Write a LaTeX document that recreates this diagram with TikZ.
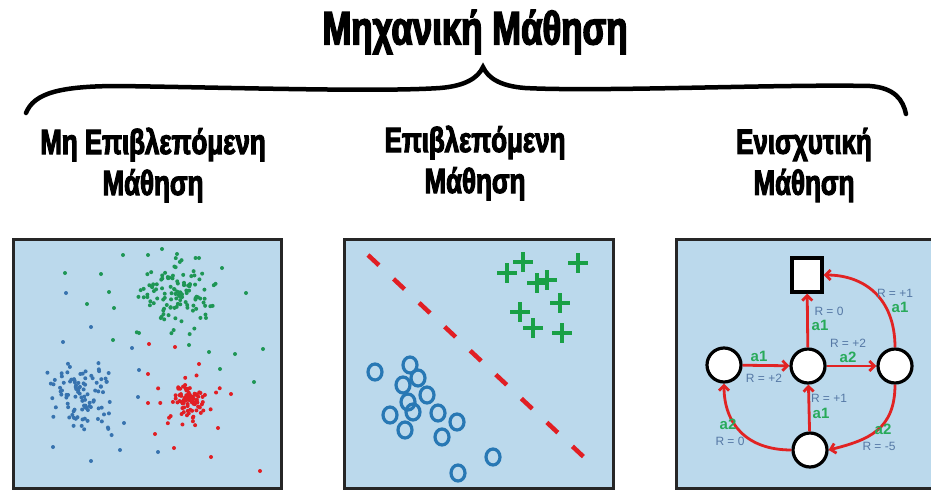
\documentclass[tikz,border=0pt]{standalone}
\usepackage{fontspec}
\setmainfont{Liberation Sans}
\newfontfamily\headfont[FakeStretch=0.74,FakeBold=3]{Liberation Sans}
\usetikzlibrary{arrows.meta}

\definecolor{panelblue}{RGB}{187,217,236}
\definecolor{dotgreen}{RGB}{30,150,85}
\definecolor{dotblue}{RGB}{55,115,175}
\definecolor{dotred}{RGB}{225,30,35}
\definecolor{plusgreen}{RGB}{25,160,70}
\definecolor{ringblue}{RGB}{40,120,180}
\definecolor{rewardblue}{RGB}{85,120,165}
\definecolor{actiongreen}{RGB}{40,170,90}
\definecolor{edgered}{RGB}{225,35,35}

\tikzset{
  panel/.style={draw=black!85, line width=3pt, fill=panelblue},
  heading/.style={font=\headfont\bfseries\fontsize{35}{41}\selectfont, align=center},
  state/.style={circle, draw, line width=3.2pt, fill=white, minimum size=34pt, inner sep=0pt},
  terminal/.style={rectangle, draw, line width=3.2pt, fill=white, minimum width=30pt, minimum height=34pt, inner sep=0pt},
  move/.style={draw=edgered, line width=2.8pt, -{Straight Barb[length=5pt,width=10pt]}},
  reward/.style={text=rewardblue, font=\fontsize{12}{12}\selectfont, inner sep=0pt},
  action/.style={text=actiongreen, font=\bfseries\fontsize{15}{15}\selectfont, inner sep=0pt},
  plus/.style={draw=plusgreen, line width=3.4pt},
  ring/.style={draw=ringblue, line width=3.2pt},
}

\begin{document}
\begin{tikzpicture}[x=1pt, y=-1pt]
    \useasboundingbox (0,0) rectangle (931,490);

    % Title and brace
    \node [font=\headfont\bfseries\fontsize{47}{47}\selectfont] (title) at (475,32) {Μηχανική Μάθηση};
    \draw [line width=4.5pt, line cap=round] (26,113) .. controls (34,93) and (60,86) .. (120,86)
        .. controls (250,88) and (380,92) .. (440,88)
        .. controls (465,86) and (478,78) .. (483,67)
        .. controls (488,78) and (500,86) .. (525,88)
        .. controls (600,92) and (780,84) .. (870,86)
        .. controls (895,88) and (903,100) .. (906,114);

    % Headings
    \node [heading] (unsup) at (153,165) {Μη Επιβλεπόμενη\\Μάθηση};
    \node [heading] (sup) at (475,163) {Επιβλεπόμενη\\Μάθηση};
    \node [heading] (reinf) at (804,165) {Ενισχυτική\\Μάθηση};

    % Panels
    \draw [panel] (13,239) rectangle (281,488);
    \draw [panel] (344,239) rectangle (613,488);
    \begin{scope}
        \clip (0,0) rectangle (931,490);
        \draw [panel] (676,239) rectangle (960,488);
    \end{scope}

    % Clusters
    \pgfmathsetseed{11}
    \foreach \i in {1,...,115} {
        \pgfmathsetmacro{\px}{178+44*(rnd+rnd-1)}
        \pgfmathsetmacro{\py}{297+40*(rnd+rnd-1)}
        \fill [dotgreen] (\px,\py) circle[radius=2];
    }
    \foreach \i in {1,...,100} {
        \pgfmathsetmacro{\px}{83+36*(rnd+rnd-1)}
        \pgfmathsetmacro{\py}{398+42*(rnd+rnd-1)}
        \fill [dotblue] (\px,\py) circle[radius=2];
    }
    \foreach \i in {1,...,45} {
        \pgfmathsetmacro{\px}{190+34*(rnd+rnd-1)}
        \pgfmathsetmacro{\py}{402+32*(rnd+rnd-1)}
        \fill [dotred] (\px,\py) circle[radius=2];
    }
    \foreach \i in {1,...,45} {
        \pgfmathsetmacro{\px}{190+15*(rnd+rnd-1)}
        \pgfmathsetmacro{\py}{400+15*(rnd+rnd-1)}
        \fill [dotred] (\px,\py) circle[radius=2];
    }
    % Stray points
    \foreach \p in {(123,255),(148,255),(162,249),(177,254),(199,258),(222,268),(65,273),
        (101,274),(109,292),(87,304),(114,308),(246,293),(113,340),(139,333),(189,345),
        (209,352),(235,354),(263,349),(220,369),(254,382)}
        \fill [dotgreen] \p circle[radius=2];
    \foreach \p in {(66,293),(91,327),(63,342),(132,348),(139,370),(138,397),(124,423),
        (53,447),(91,461),(120,450),(158,452)}
        \fill [dotblue] \p circle[radius=2];
    \foreach \p in {(149,344),(175,347),(199,364),(148,374),(148,403),(155,434),(174,448),
        (211,457),(260,471),(231,394),(218,428)}
        \fill [dotred] \p circle[radius=2];

    % Classes and boundary
    \coordinate (bd1) at (368,255);
    \coordinate (bd2) at (587,460);
    \draw [dotred, line width=4.5pt, dash pattern=on 15pt off 20pt] (bd1) -- (bd2);
    \foreach \p in {(507,273),(523,262),(537,283),(547,280),(578,263),(560,303),
        (520,312),(533,328),(562,333)}
        \draw [plus] \p +(-10,0) -- +(10,0) \p +(0,-10) -- +(0,10);
    \foreach \p in {(375,372),(410,365),(418,378),(403,385),(427,395),(408,402),(390,415),
        (413,412),(438,413),(457,422),(405,430),(442,437),(493,457),(458,473)}
        \draw [ring] \p ellipse[x radius=7, y radius=8];

    % States
    \node [terminal] (goal) at (807,275) {};
    \node [state] (s1) at (724,365) {};
    \node [state] (s2) at (808,366) {};
    \node [state] (s3) at (895,366) {};
    \node [state] (s4) at (810,450) {};

    % Transitions
    \draw [move] (s1) -- (s2);
    \draw [move] (s2) -- (s3);
    \draw [move] (s2) -- (goal);
    \draw [move] (s4) -- (s2);
    \draw [move] (s3.north) .. controls +(0,-50) and +(40,0) .. (goal.east);
    \draw [move] (s4.west) .. controls +(-45,0) and +(0,40) .. (s1.south);
    \draw [move] (s3.south) .. controls +(0,45) and +(40,-10) .. (s4.east);

    % Rewards and actions
    \node [reward] (r1) at (829,311) {R = 0};
    \node [action] (a1) at (820,325) {a1};
    \node [reward] (r2) at (895,293) {R = +1};
    \node [action] (a2) at (900,307) {a1};
    \node [reward] (r3) at (848,343) {R = +2};
    \node [action] (a3) at (848,357) {a2};
    \node [action] (a4) at (759,356) {a1};
    \node [reward] (r4) at (764,378) {R = +2};
    \node [reward] (r5) at (829,398) {R = +1};
    \node [action] (a5) at (821,413) {a1};
    \node [action] (a6) at (728,424) {a2};
    \node [reward] (r6) at (730,441) {R = 0};
    \node [action] (a7) at (883,429) {a2};
    \node [reward] (r7) at (879,446) {R = -5};
\end{tikzpicture}
\end{document}
